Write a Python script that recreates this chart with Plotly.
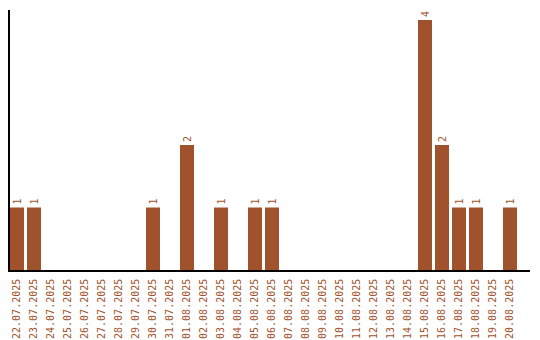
import plotly.graph_objects as go

dates = ["22.07.2025","23.07.2025","24.07.2025","25.07.2025","26.07.2025","27.07.2025",
         "28.07.2025","29.07.2025","30.07.2025","31.07.2025","01.08.2025","02.08.2025",
         "03.08.2025","04.08.2025","05.08.2025","06.08.2025","07.08.2025","08.08.2025",
         "09.08.2025","10.08.2025","11.08.2025","12.08.2025","13.08.2025","14.08.2025",
         "15.08.2025","16.08.2025","17.08.2025","18.08.2025","19.08.2025","20.08.2025"]
counts = [1,1,0,0,0,0,0,0,1,0,2,0,1,0,1,1,0,0,0,0,0,0,0,0,4,2,1,1,0,1]

color = "#a0522d"
labels = [str(v) if v > 0 else "" for v in counts]

fig = go.Figure(go.Bar(
    x=dates, y=counts, marker_color=color, marker_line_width=0,
    text=labels, textposition="outside", textangle=-90, cliponaxis=False,
    textfont=dict(family="DejaVu Sans Mono", size=10, color=color),
))
fig.update_layout(
    width=540, height=340, margin=dict(l=10, r=10, t=10, b=70),
    paper_bgcolor="white", plot_bgcolor="white", bargap=0.176, showlegend=False,
    font=dict(family="DejaVu Sans Mono", size=10, color=color),
)
fig.update_xaxes(type="category", tickangle=-90, showline=True, linecolor="black",
                 linewidth=1.5, ticks="outside", ticklen=3, tickcolor="rgba(0,0,0,0)",
                 showgrid=False, automargin=False,
                 range=[-0.412, 30.176],
                 tickfont=dict(family="DejaVu Sans Mono", size=10, color=color))
fig.update_yaxes(range=[0, 4.16], showticklabels=False, showline=True, linecolor="black",
                 linewidth=1.5, showgrid=False, zeroline=False, ticks="", automargin=False)
fig.write_html("out.html")
